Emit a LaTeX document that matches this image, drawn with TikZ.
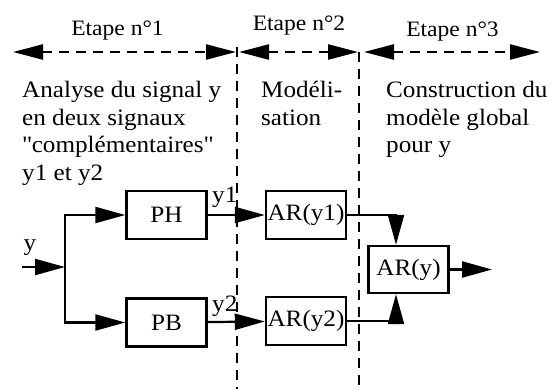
\documentclass[tikz,border=0pt]{standalone}
\usepackage{fontspec}
\setmainfont{Liberation Serif}[FakeStretch=1.07]
\usetikzlibrary{positioning,arrows.meta}

\begin{document}
\begin{tikzpicture}[
    x=1pt, y=-1pt,
    font=\fontsize{23.5}{27.7}\selectfont,
    box/.style={draw, line width=2.4pt, minimum width=80pt, minimum height=48pt, inner sep=0pt},
    arrow/.style={-{Triangle[length=30pt,width=16pt]}, line width=2.2pt},
    span/.style={{Triangle[length=30pt,width=15pt]}-{Triangle[length=30pt,width=15pt]}, line width=2.4pt, dash pattern=on 10pt off 7pt},
    border/.style={line width=2.8pt, dash pattern=on 10pt off 7pt},
    stage/.style={font=\fontsize{22}{26}\selectfont, anchor=base, inner sep=0pt},
    txt/.style={align=left, anchor=north west, inner sep=0pt},
    lab/.style={anchor=base west, inner sep=0pt}
  ]
  \useasboundingbox (0,0) rectangle (556,389);

  % stages
  \node[stage] (e1) at (117.5,35) {Etape n°1};
  \node[stage] (e2) at (299,30)   {Etape n°2};
  \node[stage] (e3) at (452.5,36) {Etape n°3};

  \coordinate (s1a) at (13,52);
  \coordinate (s1b) at (236,52);
  \coordinate (s2a) at (239,52);
  \coordinate (s2b) at (358,52);
  \coordinate (s3a) at (364,52);
  \coordinate (s3b) at (540,52);
  \draw[span] (s1a) -- (s1b);
  \draw[span] (s2a) -- (s2b);
  \draw[span] (s3a) -- (s3b);

  \coordinate (b1top) at (237,47);
  \coordinate (b1bot) at (237,389);
  \coordinate (b2top) at (359,52);
  \coordinate (b2bot) at (359,389);
  \draw[border] (b1top) -- (b1bot);
  \draw[border] (b2top) -- (b2bot);

  \node[txt] (t1) at (22,81)  {Analyse du signal y\\en deux signaux\\\textquotedbl complémentaires\textquotedbl\\y1 et y2};
  \node[txt] (t2) at (261,81) {Modéli-\\sation};
  \node[txt] (t3) at (386,81) {Construction du\\modèle global\\pour y};

  % blocks
  \node[box] (ph)   at (166.5,215)   {PH};
  \node[box] (pb)   at (166.5,322.5) {PB};
  \node[box] (ary1) at (306,215)     {AR(y1)};
  \node[box] (ary2) at (306,321)     {AR(y2)};
  \node[box, minimum height=47pt] (ary) at (408.5,269.5) {AR(y)};

  \coordinate (in)    at (22,267);
  \coordinate (split) at (65,267);
  \coordinate (out)   at (492,269.5);

  \draw[arrow] (in) -- (split);
  \draw[arrow] (split) |- (ph);
  \draw[arrow] (split) |- (pb);
  \draw[arrow] (ph) -- (ary1);
  \draw[arrow] (pb) -- (ary2);
  \draw[arrow] (ary1) -| ([xshift=-12.5pt]ary.north);
  \draw[arrow] (ary2) -| ([xshift=-12.5pt]ary.south);
  \draw[arrow] (ary) -- (out);

  \node[anchor=base, inner sep=0pt] (ly) at (30,250) {y};
  \node[lab] (ly1) at (212,202) {y1};
  \node[lab] (ly2) at (212,311) {y2};
\end{tikzpicture}
\end{document}
